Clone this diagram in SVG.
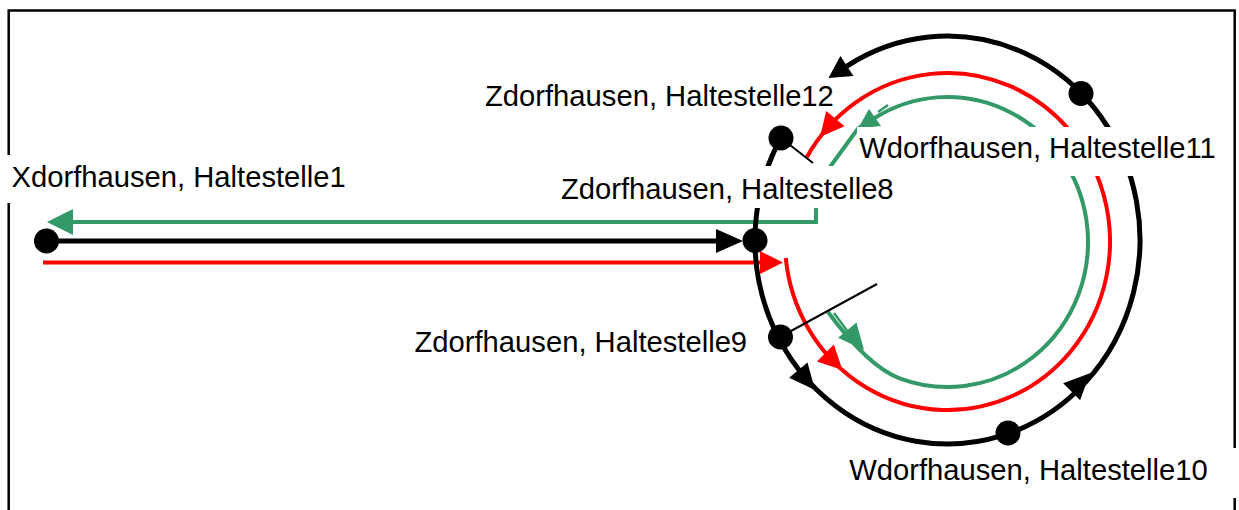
<svg xmlns="http://www.w3.org/2000/svg" width="1239" height="510" viewBox="0 0 1239 510">
<style>
.lbl{font-family:"Liberation Sans",Arial,sans-serif;font-size:29.2px;fill:#000}
.bg{fill:#fff}
.stop{fill:#000}
.blk{fill:none;stroke:#000;stroke-width:5}
.red{fill:none;stroke:#ff0000;stroke-width:4}
.grn{fill:none;stroke:#339966;stroke-width:4}
.grnthin{fill:none;stroke:#339966;stroke-width:2.5}
.thin{fill:none;stroke:#000;stroke-width:2}
.ahb{fill:#000}
.ahr{fill:#ff0000}
.ahg{fill:#339966}
</style>
<rect x="0" y="0" width="1239" height="510" fill="#fff"/>
<rect id="frame" x="8.7" y="10.5" width="1226" height="620" fill="none" stroke="#000" stroke-width="2.5"/>
<g id="connectors">
  <!-- green route -->
  <path class="grn" d="M 816,208 L 816,222 L 70,222"/>
  <polygon class="ahg" points="47,222 73,209 73,235"/>
  <path class="grn" d="M 828,312 C 848.4,339.6 873.2,368.4 899.6,378.3 A 140.5 145 0 1 0 875,117.8 L 858,128.5 L 830,167"/>
  <line class="grnthin" x1="834" y1="313" x2="848" y2="332"/>
  <line class="grnthin" x1="888" y1="105" x2="878" y2="112"/>
  <polygon class="ahg" points="858,128.5 869,109 881,126"/>
  <polygon class="ahg" points="864,350 838.1,337.8 856.5,322.4"/>
  <!-- red route -->
  <line class="red" x1="43" y1="262.5" x2="765" y2="262.5"/>
  <polygon class="ahr" points="783,262.5 760,251 760,274"/>
  <path class="red" d="M 785.78,258 A 162.5 168.5 0 1 0 806.9,157"/>
  <polygon class="ahr" points="820,137 826.2,110.9 844.6,126.3"/>
  <polygon class="ahr" points="842.4,370 816.9,361.5 833.9,344.5"/>
  <!-- black route -->
  <line class="blk" x1="46" y1="241" x2="720" y2="241"/>
  <polygon class="ahb" points="743,241 716,229 716,253"/>
  <path class="blk" d="M 846.92,66.07 A 192.5 204 0 1 1 780.79,138"/>
  <polygon class="ahb" points="828.5,78 840.4,56 853.5,76.1"/>
  <polygon class="ahb" points="815,390 789.1,377.8 807.5,362.4"/>
  <polygon class="ahb" points="1090,373.3 1063.1,383.2 1080.1,400.2"/>
  <!-- leader lines -->
  <line class="thin" x1="781" y1="138" x2="813" y2="163"/>
  <line class="thin" x1="780" y1="337" x2="877" y2="284"/>
</g>
<g id="stop-h1">
  <circle class="stop" cx="46.5" cy="241" r="12.5"/>
  <rect class="bg" x="4" y="155" width="348" height="48"/>
  <text class="lbl" x="11.5" y="186.7">Xdorfhausen, Haltestelle1</text>
</g>
<g id="stop-h8">
  <circle class="stop" cx="755" cy="240.5" r="12.5"/>
  <rect class="bg" x="557" y="166" width="343" height="42"/>
  <text class="lbl" x="561" y="198.5">Zdorfhausen, Haltestelle8</text>
</g>
<g id="stop-h9">
  <circle class="stop" cx="780.5" cy="337" r="12.5"/>
  <text class="lbl" x="414.5" y="352.3">Zdorfhausen, Haltestelle9</text>
</g>
<g id="stop-h10">
  <circle class="stop" cx="1008" cy="433" r="12.5"/>
  <rect class="bg" x="845" y="448" width="395" height="50"/>
  <text class="lbl" x="849.2" y="480">Wdorfhausen, Haltestelle10</text>
</g>
<g id="stop-h11">
  <circle class="stop" cx="1081" cy="93.5" r="12.5"/>
  <rect class="bg" x="857" y="127" width="361" height="49"/>
  <text class="lbl" x="859.3" y="158.3">Wdorfhausen, Haltestelle11</text>
</g>
<g id="stop-h12">
  <circle class="stop" cx="781" cy="138" r="12.5"/>
  <text class="lbl" x="485" y="106">Zdorfhausen, Haltestelle12</text>
</g>
</svg>
